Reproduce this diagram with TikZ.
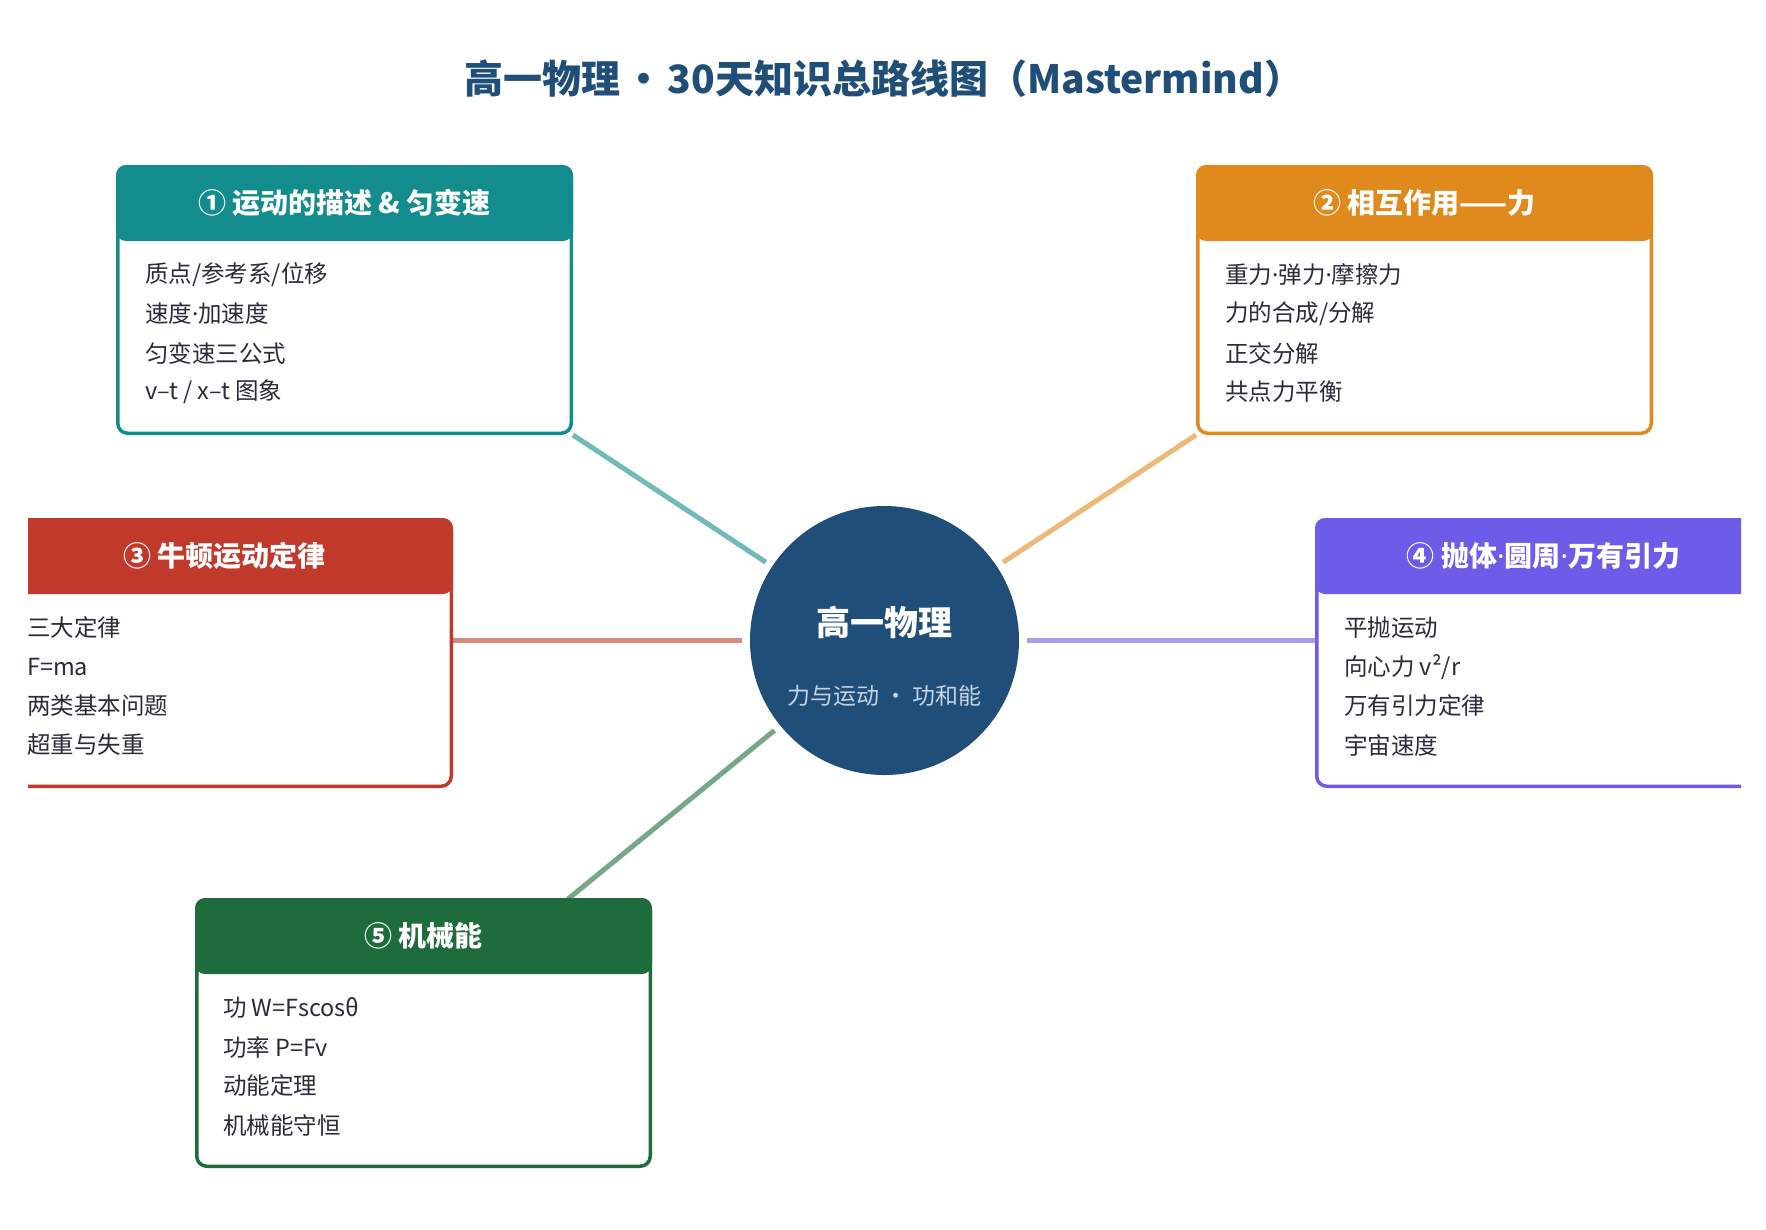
\documentclass[tikz,border=0pt]{standalone}
\usepackage{fontspec}
\setmainfont{Noto Sans CJK SC}
\newfontfamily\dotfont{Noto Sans}
\newcommand{\nd}{{\dotfont ·}}
\usetikzlibrary{backgrounds}
\definecolor{hubc}{HTML}{1F4E79}
\definecolor{cteal}{HTML}{128C8C}
\definecolor{corange}{HTML}{E08A1E}
\definecolor{cred}{HTML}{C0392B}
\definecolor{cpurple}{HTML}{6C5CE7}
\definecolor{cgreen}{HTML}{1E6B3B}
\definecolor{itemc}{HTML}{2B2B3B}
\definecolor{subc}{HTML}{C5D3E3}
\tikzset{
  hdr/.style={draw=none, fill=#1, rounded corners=10pt, minimum width=457pt,
    minimum height=76pt, inner sep=0pt, outer sep=0pt, text=white,
    font=\fontsize{28}{32}\selectfont\bfseries},
  hdrtext/.style={text=white, inner sep=0pt, font=\fontsize{28}{32}\selectfont\bfseries},
  bodybox/.style={draw=#1, line width=3.5pt, fill=white, rounded corners=10pt,
    minimum width=453.5pt, minimum height=266.5pt, inner sep=0pt},
  item/.style={anchor=west, inner sep=0pt, text=itemc,
    font=\fontsize{23.5}{27}\selectfont},
  link/.style={draw=#1, line width=5pt, shorten >=7.5pt},
}
\begin{document}
\begin{tikzpicture}[x=1pt,y=-1pt]
\useasboundingbox (0,0) rectangle (1766,1229);

% title
\node[text=hubc, font=\fontsize{39}{44}\selectfont\bfseries, inner sep=0pt] (title) at (884,79)
  {高一物理\hspace{4pt}·\hspace{4pt}30天知识总路线图（Mastermind）};

% hub
\node[circle, fill=hubc, minimum size=269pt, inner sep=0pt] (hub) at (884.5,640.5) {};
\node[text=white, font=\fontsize{34}{40}\selectfont\bfseries, inner sep=0pt] (hubt) at (884.5,622) {高一物理};
\node[text=subc, font=\fontsize{23}{26}\selectfont, inner sep=0pt] (hubs) at (884.5,696) {力与运动 · 功和能};

% box 1
\node[bodybox=cteal] (b1) at (344.5,300) {};
\node[hdr=cteal] (b1h) at (344.5,203) {① 运动的描述 \& 匀变速};
\node[item] (b1a) at (145,275) {质点/参考系/位移};
\node[item] (b1b) at (145,314) {速度\nd 加速度};
\node[item] (b1c) at (145,353) {匀变速三公式};
\node[item] (b1d) at (145,392) {v–t / x–t 图象};

% box 2
\node[bodybox=corange] (b2) at (1424.5,300) {};
\node[hdr=corange] (b2h) at (1424.5,203) {② 相互作用——力};
\node[item] (b2a) at (1225,275) {重力\nd 弹力\nd 摩擦力};
\node[item] (b2b) at (1225,314) {力的合成/分解};
\node[item] (b2c) at (1225,353) {正交分解};
\node[item] (b2d) at (1225,392) {共点力平衡};

% box 3 (clipped at left)
\begin{scope}
\clip (28,0) rectangle (1766,1229);
\node[bodybox=cred] (b3) at (224.5,653) {};
\node[hdr=cred] (b3h) at (224.5,556) {};
\end{scope}
\node[hdrtext] (b3t) at (b3h) {③ 牛顿运动定律};
\node[item] (b3a) at (27,628) {三大定律};
\node[item] (b3b) at (27,667) {F=ma};
\node[item] (b3c) at (27,706) {两类基本问题};
\node[item] (b3d) at (27,745) {超重与失重};

% box 4 (clipped at right)
\begin{scope}
\clip (0,0) rectangle (1741,1229);
\node[bodybox=cpurple] (b4) at (1543.5,653) {};
\node[hdr=cpurple] (b4h) at (1543.5,556) {};
\end{scope}
\node[hdrtext] (b4t) at (b4h) {④ 抛体\nd 圆周\nd 万有引力};
\node[item] (b4a) at (1344,628) {平抛运动};
\node[item] (b4b) at (1344,667) {向心力 v²/r};
\node[item] (b4c) at (1344,706) {万有引力定律};
\node[item] (b4d) at (1344,745) {宇宙速度};

% box 5
\node[bodybox=cgreen] (b5) at (423.5,1033) {};
\node[hdr=cgreen] (b5h) at (423.5,936) {⑤ 机械能};
\node[item] (b5a) at (223,1008) {功 W=Fscosθ};
\node[item] (b5b) at (223,1047) {功率 P=Fv};
\node[item] (b5c) at (223,1086) {动能定理};
\node[item] (b5d) at (223,1125) {机械能守恒};

\coordinate (c5) at (568,899);

% connectors
\begin{scope}[on background layer]
\fill[white] (0,0) rectangle (1766,1229);
\draw[link=cteal!60!white] (b1.south east) -- (hub);
\draw[link=corange!60!white] (b2.south west) -- (hub);
\draw[link=cred!60!white] (b3.east |- hub.center) -- (hub);
\draw[link=cpurple!60!white] (b4.west |- hub.center) -- (hub);
\draw[link=cgreen!60!white] (c5) -- (hub);
\end{scope}
\end{tikzpicture}
\end{document}
